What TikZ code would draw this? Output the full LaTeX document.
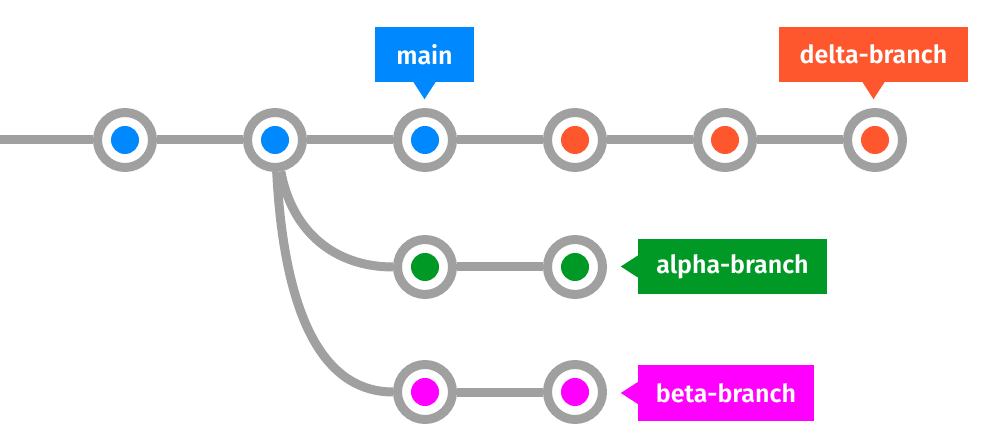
\documentclass[tikz,border=0pt]{standalone}
\usepackage{fontspec}
\setmainfont{Fira Sans}[BoldFont={Fira Sans SemiBold}]
\definecolor{ringgray}{RGB}{160,160,160}
\definecolor{cblue}{RGB}{0,136,255}
\definecolor{cred}{RGB}{255,87,45}
\definecolor{cgreen}{RGB}{0,153,38}
\definecolor{cpink}{RGB}{255,0,255}
\begin{document}
\begin{tikzpicture}[x=1pt,y=-1pt,
  commit/.style={circle,draw=ringgray,line width=9pt,fill=white,minimum size=55pt,inner sep=0pt,
    path picture={\fill[#1] (path picture bounding box.center) circle (14pt);}},
  edge/.style={draw=ringgray,line width=9pt},
  tag/.style={fill=#1,text=white,font=\bfseries\fontsize{25}{29}\selectfont,minimum height=55pt,inner sep=0pt},
]
\useasboundingbox (0,0) rectangle (993,443);
% commits
\node[commit=cblue] (c1) at (125,140) {};
\node[commit=cblue] (c2) at (275,140) {};
\node[commit=cblue] (c3) at (425,140) {};
\node[commit=cred] (c4) at (575,140) {};
\node[commit=cred] (c5) at (725,140) {};
\node[commit=cred] (c6) at (875,140) {};
\node[commit=cgreen] (a1) at (425,267) {};
\node[commit=cgreen] (a2) at (575,267) {};
\node[commit=cpink] (b1) at (425,392) {};
\node[commit=cpink] (b2) at (575,392) {};
\coordinate (start) at (0,140);
% connectors
\draw[edge] (start) -- (c1);
\draw[edge] (c1) -- (c2);
\draw[edge] (c2) -- (c3);
\draw[edge] (c3) -- (c4);
\draw[edge] (c4) -- (c5);
\draw[edge] (c5) -- (c6);
\draw[edge] (a1) -- (a2);
\draw[edge] (b1) -- (b2);
\draw[edge] (c2) .. controls (292,232) and (335,267) .. (a1);
\draw[edge] (c2) .. controls (285,330) and (330,392) .. (b1);
% labels
\node[tag=cblue,minimum width=99pt] (tmain) at (424.5,54.5) {main};
\fill[cblue] ([xshift=-11pt]tmain.south) -- ([xshift=11pt]tmain.south) -- ([yshift=-17pt]tmain.south) -- cycle;
\node[tag=cred,minimum width=189pt] (tdelta) at (873.5,54.5) {delta-branch};
\fill[cred] ([xshift=-11pt]tdelta.south) -- ([xshift=11pt]tdelta.south) -- ([yshift=-17pt]tdelta.south) -- cycle;
\node[tag=cgreen,minimum width=189pt] (talpha) at (732.5,266.5) {alpha-branch};
\fill[cgreen] ([yshift=11pt]talpha.west) -- ([yshift=-11pt]talpha.west) -- ([xshift=-17pt]talpha.west) -- cycle;
\node[tag=cpink,minimum width=176pt] (tbeta) at (726,393) {beta-branch};
\fill[cpink] ([yshift=11pt]tbeta.west) -- ([yshift=-11pt]tbeta.west) -- ([xshift=-17pt]tbeta.west) -- cycle;
\end{tikzpicture}
\end{document}
